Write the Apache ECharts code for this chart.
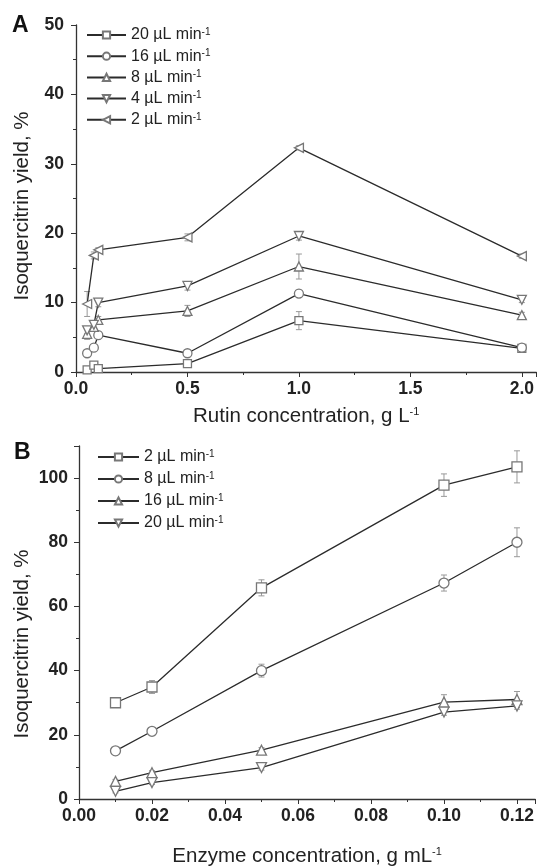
<!DOCTYPE html>
<html>
<head>
<meta charset="utf-8">
<script src="https://cdn.jsdelivr.net/npm/echarts@6/dist/echarts.min.js"></script>
<style>
  html, body { margin: 0; padding: 0; background: #fff; }
  #chart { width: 537px; height: 868px; }
</style>
</head>
<body>
<div id="chart"></div>
<script>
    // Panel A: rutin concentration (g/L) vs yield (%)
    const rutinConc = [0.05, 0.08, 0.1, 0.5, 1.0, 2.0];
    const namesA = ['20 µL min', '16 µL min', '8 µL min', '4 µL min', '2 µL min'];
    const yieldA20 = [0.3, 1.0, 0.5, 1.2, 7.4, 3.4];
    const yieldA16 = [2.7, 3.5, 5.3, 2.7, 11.3, 3.5];
    const yieldA8 = [5.5, 6.5, 7.5, 8.8, 15.2, 8.2];
    const yieldA4 = [6.0, 6.8, 10.0, 12.4, 19.6, 10.4];
    const yieldA2 = [9.8, 16.8, 17.6, 19.4, 32.3, 16.7];
    const errA20 = [0.2, 0.3, 0.2, 0.3, 1.3, 0.5];
    const errA16 = [0.4, 0.4, 0.4, 0.4, 0.5, 0.5];
    const errA8 = [0.8, 0.6, 0.5, 0.8, 1.8, 0.4];
    const errA4 = [0.5, 0.5, 0.6, 0.6, 0.6, 0.4];
    const errA2 = [1.8, 0.5, 0.3, 0.5, 0.3, 0.3];

    // Panel B: enzyme concentration (g/mL) vs yield (%)
    const enzymeConc = [0.01, 0.02, 0.05, 0.10, 0.12];
    const namesB = ['2 µL min', '8 µL min', '16 µL min', '20 µL min'];
    const yieldB2 = [30.0, 34.9, 65.8, 97.8, 103.5];
    const yieldB8 = [15.0, 21.1, 40.0, 67.3, 80.0];
    const yieldB16 = [5.5, 8.2, 15.2, 30.2, 31.0];
    const yieldB20 = [2.4, 5.1, 9.8, 27.1, 29.0];
    const errB2 = [0.8, 2.0, 2.5, 3.5, 5.0];
    const errB8 = [0.8, 1.0, 2.0, 2.5, 4.5];
    const errB16 = [0.6, 0.6, 0.8, 2.3, 2.5];
    const errB20 = [0.5, 0.6, 0.8, 1.0, 1.0];

    const FONT = 'Liberation Sans';
    const LINE = '#2b2b2b';
    const MARK = '#777';

    function pairs(xs, ys) {
        return xs.map((x, i) => [x, ys[i]]);
    }
    function errData(xs, ys, es) {
        return xs.map((x, i) => [x, ys[i], es[i]]);
    }

    function lineSeries(name, xs, ys, symbol, rot, idx, size) {
        return {
            name: name,
            type: 'line',
            xAxisIndex: idx,
            yAxisIndex: idx,
            data: pairs(xs, ys),
            symbol: symbol,
            symbolRotate: rot,
            symbolSize: size,
            showAllSymbol: true,
            color: LINE,
            lineStyle: { color: LINE, width: 1.3 },
            itemStyle: { color: '#fff', borderColor: MARK, borderWidth: 1.3 },
            z: 3
        };
    }

    function errSeries(xs, ys, es, idx) {
        return {
            type: 'custom',
            xAxisIndex: idx,
            yAxisIndex: idx,
            data: errData(xs, ys, es),
            silent: true,
            z: 1,
            renderItem: function (params, api) {
                let x = api.value(0), y = api.value(1), e = api.value(2);
                let hi = api.coord([x, y + e]);
                let lo = api.coord([x, y - e]);
                let st = { stroke: '#999', lineWidth: 1 };
                return {
                    type: 'group',
                    children: [
                        { type: 'line', shape: { x1: hi[0], y1: hi[1], x2: lo[0], y2: lo[1] }, style: st },
                        { type: 'line', shape: { x1: hi[0] - 3, y1: hi[1], x2: hi[0] + 3, y2: hi[1] }, style: st },
                        { type: 'line', shape: { x1: lo[0] - 3, y1: lo[1], x2: lo[0] + 3, y2: lo[1] }, style: st }
                    ]
                };
            }
        };
    }

    const tickLabel = { fontFamily: FONT, fontWeight: 'bold', fontSize: 17.5, color: '#222' };
    const axisLine = { lineStyle: { color: '#333', width: 1.3 } };
    const supRich = {
        sup: { fontFamily: FONT, fontSize: 11, verticalAlign: 'top', padding: [0, 0, 9, 0], color: '#222' }
    };
    const legSupRich = {
        sup: { fontFamily: FONT, fontSize: 10, lineHeight: 16, verticalAlign: 'top', padding: [0, 0, 7, 0], color: '#222' }
    };

    function valueAxis(idx, min, max, interval, labelFmt, extra) {
        return Object.assign({
            type: 'value',
            gridIndex: idx,
            min: min,
            max: max,
            interval: interval,
            axisLine: Object.assign({ onZero: false }, axisLine),
            axisTick: { show: true, length: 5, lineStyle: { color: '#333' } },
            minorTick: { show: true, splitNumber: 2, length: 3, lineStyle: { color: '#333' } },
            splitLine: { show: false },
            axisLabel: Object.assign({ showMaxLabel: false, formatter: labelFmt }, tickLabel)
        }, extra || {});
    }

    function legendBox(names, left, top, width, gap, fmt) {
        return {
            data: names,
            orient: 'vertical',
            left: left,
            top: top,
            padding: 0,
            itemWidth: width,
            itemHeight: 9,
            itemGap: gap,
            formatter: fmt,
            textStyle: { fontFamily: FONT, fontSize: 16, lineHeight: 16, color: '#222', rich: legSupRich }
        };
    }

    const chart = echarts.init(document.getElementById('chart'));
    chart.setOption({
        animation: false,
        backgroundColor: '#fff',
        grid: [
            { left: 76, top: 25, right: 0, height: 347 },
            { left: 79, top: 446, right: 0, height: 356 }
        ],
        xAxis: [
            valueAxis(0, 0, 2.065, 0.5, v => v.toFixed(1), {
                name: 'Rutin concentration, g L{sup|-1}',
                nameLocation: 'middle',
                nameGap: 34,
                nameTextStyle: { fontFamily: FONT, fontSize: 20.5, color: '#222', rich: supRich }
            }),
            valueAxis(1, 0, 0.125, 0.02, v => v.toFixed(2), {
                name: 'Enzyme concentration, g mL{sup|-1}',
                nameLocation: 'middle',
                nameGap: 47,
                nameTextStyle: { fontFamily: FONT, fontSize: 20.5, color: '#222', rich: supRich }
            })
        ],
        yAxis: [
            valueAxis(0, 0, 50, 10, v => String(v), { axisLabel: Object.assign({ showMaxLabel: true, margin: 12 }, tickLabel) }),
            valueAxis(1, 0, 110, 20, v => String(v), { axisLabel: Object.assign({ showMaxLabel: false, margin: 11 }, tickLabel) })
        ],
        legend: [
            // panel A names carry a trailing space so both legends stay separate
            legendBox(namesA.map(n => n + ' '), 86, 27, 39, 4.2, n => n.trim() + '{sup|-1}'),
            legendBox(namesB, 97, 449, 41, 5, n => n + '{sup|-1}')
        ],
        graphic: [
            { type: 'text', left: 12, top: 14, style: { text: 'A', fontFamily: FONT, fontWeight: 'bold', fontSize: 23, fill: '#111' } },
            { type: 'text', left: 14, top: 441, style: { text: 'B', fontFamily: FONT, fontWeight: 'bold', fontSize: 23, fill: '#111' } },
            {
                type: 'text', x: 22, y: 206, rotation: Math.PI / 2,
                style: { text: 'Isoquercitrin yield, %', fontFamily: FONT, fontSize: 20.5, fill: '#222', align: 'center', verticalAlign: 'middle' }
            },
            {
                type: 'text', x: 22, y: 644, rotation: Math.PI / 2,
                style: { text: 'Isoquercitrin yield, %', fontFamily: FONT, fontSize: 20.5, fill: '#222', align: 'center', verticalAlign: 'middle' }
            }
        ],
        series: [
            // panel A
            lineSeries(namesA[0] + ' ', rutinConc, yieldA20, 'rect', 0, 0, 8),
            lineSeries(namesA[1] + ' ', rutinConc, yieldA16, 'circle', 0, 0, 9),
            lineSeries(namesA[2] + ' ', rutinConc, yieldA8, 'triangle', 0, 0, 9),
            lineSeries(namesA[3] + ' ', rutinConc, yieldA4, 'triangle', 180, 0, 9),
            lineSeries(namesA[4] + ' ', rutinConc, yieldA2, 'triangle', 90, 0, 9),
            errSeries(rutinConc, yieldA20, errA20, 0),
            errSeries(rutinConc, yieldA16, errA16, 0),
            errSeries(rutinConc, yieldA8, errA8, 0),
            errSeries(rutinConc, yieldA4, errA4, 0),
            errSeries(rutinConc, yieldA2, errA2, 0),
            // panel B
            lineSeries(namesB[0], enzymeConc, yieldB2, 'rect', 0, 1, 10),
            lineSeries(namesB[1], enzymeConc, yieldB8, 'circle', 0, 1, 10),
            lineSeries(namesB[2], enzymeConc, yieldB16, 'triangle', 0, 1, 10),
            lineSeries(namesB[3], enzymeConc, yieldB20, 'triangle', 180, 1, 10),
            errSeries(enzymeConc, yieldB2, errB2, 1),
            errSeries(enzymeConc, yieldB8, errB8, 1),
            errSeries(enzymeConc, yieldB16, errB16, 1),
            errSeries(enzymeConc, yieldB20, errB20, 1)
        ]
    });
</script>
</body>
</html>
